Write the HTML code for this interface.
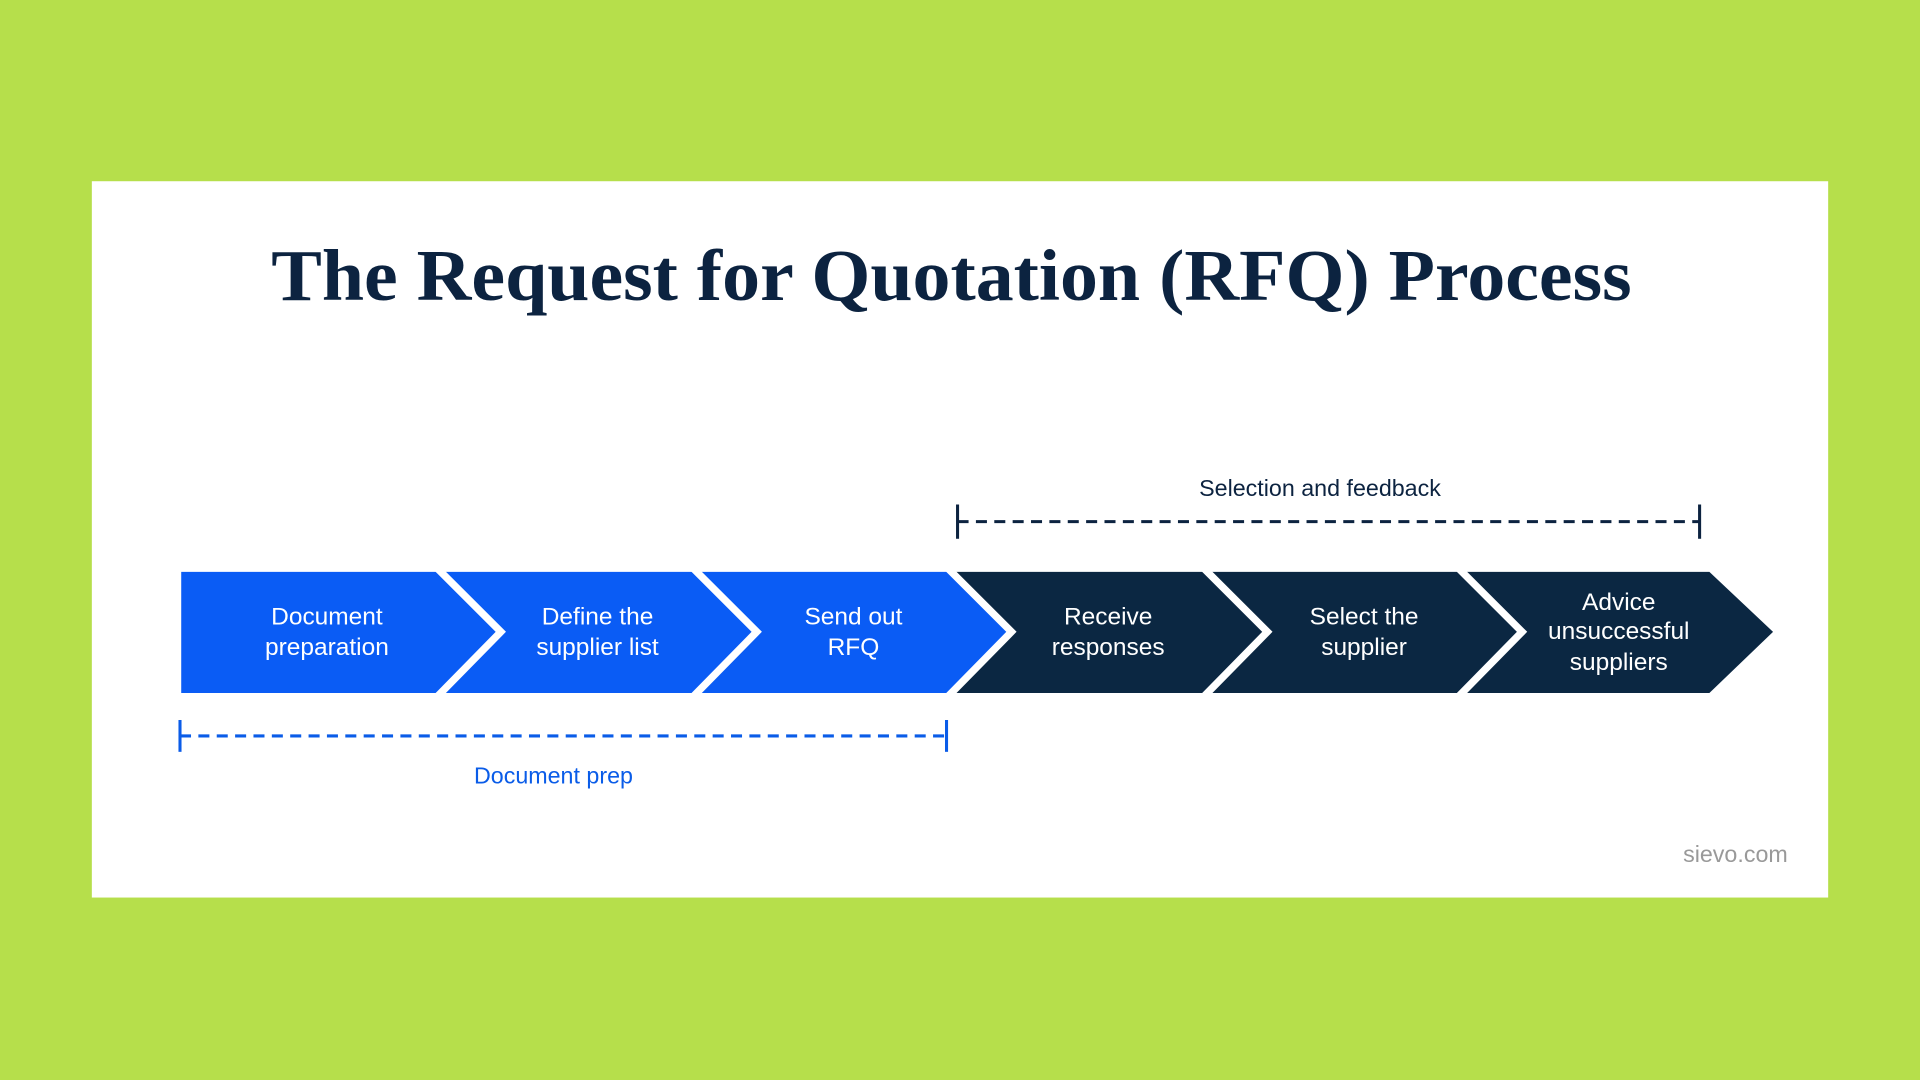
<!DOCTYPE html>
<html><head><meta charset="utf-8"><style>
html,body{margin:0;padding:0;width:1920px;height:1080px;overflow:hidden;background:#b6df4b}
svg{display:block}
</style></head><body>
<svg width="1920" height="1080" viewBox="0 0 1568 882" preserveAspectRatio="none" xmlns="http://www.w3.org/2000/svg">
<rect x="0" y="0" width="1568" height="882" fill="#b6df4b"/>
<rect x="75" y="148" width="1418" height="585" fill="#ffffff"/>
<text x="777" y="245" text-anchor="middle" font-family="Liberation Serif, serif" font-weight="bold" font-size="60" fill="#0c2340" textLength="1111" lengthAdjust="spacingAndGlyphs">The Request for Quotation (RFQ) Process</text>

<g font-family="Liberation Sans, sans-serif" font-size="19">
<text x="1078" y="405" text-anchor="middle" fill="#0c2340">Selection and feedback</text>
<text x="452" y="640" text-anchor="middle" fill="#0a5ce8">Document prep</text>
<text x="1460" y="704" text-anchor="end" fill="#999">sievo.com</text>
</g>

<g stroke="#0c2340" stroke-width="2.5">
<line x1="782" y1="426" x2="1388" y2="426" stroke-dasharray="9,6"/>
<line x1="782" y1="412" x2="782" y2="440"/>
<line x1="1388" y1="412" x2="1388" y2="440"/>
</g>
<g stroke="#0a5ce8" stroke-width="2.5">
<line x1="147" y1="601" x2="773" y2="601" stroke-dasharray="9,6"/>
<line x1="147" y1="588" x2="147" y2="614"/>
<line x1="773" y1="588" x2="773" y2="614"/>
</g>

<g>
<polygon points="148,467 357,467 409,516 357,566 148,566" fill="#0a5cf5"/>
<polygon points="357,467 566,467 618,516 566,566 357,566 409,516" fill="#0a5cf5"/>
<polygon points="566,467 774,467 826,516 774,566 566,566 618,516" fill="#0a5cf5"/>
<polygon points="774,467 983,467 1035,516 983,566 774,566 826,516" fill="#0b2742"/>
<polygon points="983,467 1191,467 1243,516 1191,566 983,566 1035,516" fill="#0b2742"/>
<polygon points="1191,467 1396,467 1448,516 1396,566 1191,566 1243,516" fill="#0b2742"/>
</g>
<g stroke="#fff" stroke-width="6" fill="none">
<polyline points="357,464 409,516 357,569"/>
<polyline points="566,464 618,516 566,569"/>
<polyline points="774,464 826,516 774,569"/>
<polyline points="983,464 1035,516 983,569"/>
<polyline points="1191,464 1243,516 1191,569"/>
</g>

<g font-family="Liberation Sans, sans-serif" font-size="20" fill="#fff" text-anchor="middle">
<text x="267" y="510">Document</text><text x="267" y="535">preparation</text>
<text x="488" y="510">Define the</text><text x="488" y="535">supplier list</text>
<text x="697" y="510">Send out</text><text x="697" y="535">RFQ</text>
<text x="905" y="510">Receive</text><text x="905" y="535">responses</text>
<text x="1114" y="510">Select the</text><text x="1114" y="535">supplier</text>
<text x="1322" y="498">Advice</text><text x="1322" y="522">unsuccessful</text><text x="1322" y="547">suppliers</text>
</g>
</svg>
</body></html>
